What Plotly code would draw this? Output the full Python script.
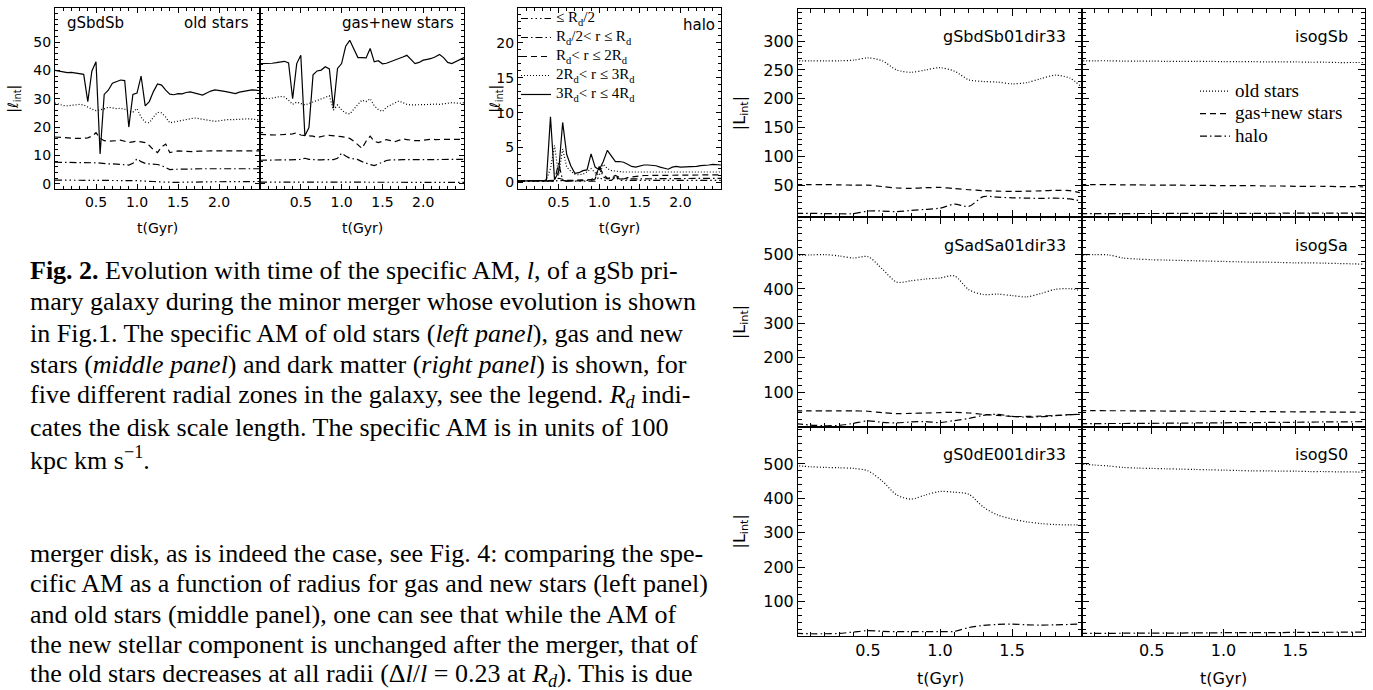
import plotly.graph_objects as go

W, H = 1373, 690

# ---------------- data: left figure (specific AM, gSbdSb) ----------------
T_LEFT = [0.00, 0.05, 0.10, 0.15, 0.20, 0.25, 0.30, 0.35, 0.40, 0.45,
          0.50, 0.55, 0.60, 0.65, 0.70, 0.75, 0.80, 0.85, 0.90, 0.95,
          1.00, 1.05, 1.10, 1.15, 1.20, 1.25, 1.30, 1.35, 1.40, 1.45,
          1.50, 1.55, 1.60, 1.65, 1.70, 1.75, 1.80, 1.85, 1.90, 1.95,
          2.00, 2.05, 2.10, 2.15, 2.20, 2.25, 2.30, 2.35, 2.40, 2.45, 2.50]

# old stars
OLD_R1 = [1.3, 1.3, 1.3, 1.3, 1.3, 1.3, 1.3, 1.3, 1.2, 1.2,
          1.2, 1.2, 1.2, 1.2, 1.2, 1.2, 1.1, 1.1, 1.1, 1.1,
          1.1, 1.0, 1.0, 0.9, 0.8, 0.7, 0.6, 0.6, 0.5, 0.5,
          0.5, 0.6, 0.6, 0.6, 0.6, 0.7, 0.7, 0.7, 0.7, 0.7,
          0.7, 0.7, 0.7, 0.8, 0.8, 0.8, 0.8, 0.8, 0.8, 0.8, 0.8]
OLD_R2 = [7.6, 7.6, 7.5, 7.5, 7.5, 7.5, 7.5, 7.4, 7.4, 7.4,
          7.4, 7.3, 7.1, 7.0, 7.0, 6.9, 6.8, 6.6, 6.6, 7.2,
          8.8, 7.8, 7.2, 7.0, 6.9, 6.8, 6.4, 5.8, 5.0, 5.1,
          5.2, 5.2, 5.2, 5.2, 5.3, 5.3, 5.3, 5.3, 5.3, 5.3,
          5.3, 5.3, 5.3, 5.3, 5.3, 5.3, 5.3, 5.3, 5.3, 5.3, 5.3]
OLD_R3 = [16.5, 16.4, 16.2, 16.0, 16.0, 16.0, 16.0, 16.0, 16.2, 16.8,
          18.0, 16.0, 15.2, 15.0, 15.0, 15.2, 15.4, 15.0, 14.6, 14.8,
          15.0, 14.8, 14.5, 13.5, 12.0, 11.0, 13.0, 14.0, 11.0, 11.3,
          11.6, 11.5, 11.4, 11.2, 11.3, 11.5, 11.6, 11.7, 11.6, 11.6,
          11.6, 11.6, 11.6, 11.6, 11.6, 11.6, 11.6, 11.6, 11.6, 11.6, 11.6]
OLD_R4 = [28.5, 28.0, 27.6, 27.5, 27.6, 27.8, 28.0, 27.8, 27.0, 26.3,
          25.8, 26.0, 26.4, 27.0, 26.8, 26.5, 26.6, 26.3, 25.5, 25.3,
          26.5, 23.5, 21.8, 21.5, 23.5, 25.2, 25.0, 23.5, 21.5, 21.8,
          22.0, 22.3, 22.6, 23.0, 23.2, 23.0, 22.8, 22.5, 22.2, 22.0,
          22.2, 22.5, 22.6, 22.6, 22.7, 22.9, 23.0, 22.9, 22.8, 22.6, 22.5]
OLD_R5 = [40.0, 39.8, 39.4, 39.2, 39.3, 39.0, 38.7, 38.6, 29.0, 39.8,
          43.0, 10.5, 31.5, 33.0, 35.5, 36.0, 36.6, 36.4, 20.0, 31.5,
          32.0, 38.0, 27.5, 29.0, 32.5, 35.2, 34.8, 33.0, 31.6, 31.4,
          31.8, 31.7, 32.2, 32.4, 32.1, 31.8, 31.3, 32.0, 32.7, 33.1,
          33.0, 32.7, 32.4, 32.1, 31.8, 32.3, 32.6, 33.0, 33.1, 33.0, 32.8]

# gas + new stars
GAS_R1 = [0.6, 0.6, 0.6, 0.6, 0.6, 0.6, 0.6, 0.6, 0.6, 0.6,
          0.6, 0.6, 0.6, 0.6, 0.6, 0.6, 0.6, 0.6, 0.6, 0.6,
          0.6, 0.6, 0.6, 0.5, 0.5, 0.5, 0.5, 0.5, 0.5, 0.5,
          0.5, 0.5, 0.5, 0.5, 0.5, 0.5, 0.5, 0.5, 0.5, 0.5,
          0.5, 0.5, 0.5, 0.5, 0.5, 0.5, 0.5, 0.5, 0.5, 0.5, 0.5]
GAS_R2 = [8.3, 8.3, 8.3, 8.4, 8.4, 8.4, 8.4, 8.5, 8.5, 8.5,
          8.6, 9.0, 8.6, 8.5, 8.4, 8.4, 8.5, 8.5, 8.5, 9.0,
          10.8, 9.8, 9.0, 8.8, 8.5, 7.8, 7.2, 6.8, 6.4, 7.0,
          7.8, 8.2, 8.4, 8.5, 8.5, 8.5, 8.5, 8.5, 8.5, 8.5,
          8.5, 8.5, 8.6, 8.6, 8.6, 8.6, 8.6, 8.6, 8.6, 8.6, 8.6]
GAS_R3 = [17.4, 17.3, 17.2, 17.2, 17.2, 17.3, 17.4, 17.5, 17.6, 18.0,
          17.2, 17.0, 17.0, 16.8, 16.3, 16.7, 17.0, 17.1, 17.0, 16.8,
          16.6, 16.4, 16.0, 15.0, 13.8, 12.5, 15.0, 16.8, 15.0, 14.5,
          15.0, 15.6, 15.2, 14.8, 15.3, 15.8, 15.6, 15.3, 15.2, 15.2,
          15.4, 15.6, 15.7, 15.6, 15.6, 15.7, 15.8, 15.7, 15.6, 15.6, 15.7]
GAS_R4 = [30.5, 30.3, 30.0, 30.2, 30.5, 30.8, 30.6, 29.5, 28.0, 28.8,
          28.3, 27.8, 28.3, 28.8, 29.3, 29.8, 30.3, 31.0, 26.0, 27.8,
          26.0, 25.0, 24.6, 26.5, 28.0, 29.5, 29.0, 30.0, 27.5, 26.2,
          25.5, 27.0, 27.8, 28.5, 29.2, 28.6, 28.0, 27.8, 27.8, 28.0,
          28.0, 27.9, 28.0, 28.1, 28.0, 28.2, 28.5, 28.6, 28.5, 28.4, 28.6]
GAS_R5 = [42.4, 42.4, 42.5, 42.5, 42.7, 43.0, 43.2, 42.6, 30.0, 42.4,
          45.3, 16.9, 19.8, 38.4, 39.8, 40.1, 41.3, 40.5, 26.7, 40.7,
          42.4, 48.5, 50.6, 47.5, 44.5, 44.5, 44.4, 47.7, 43.0, 43.4,
          42.3, 42.5, 43.0, 43.6, 44.2, 44.7, 45.3, 44.0, 42.4, 42.8,
          43.6, 43.9, 44.2, 44.8, 45.6, 44.5, 42.8, 42.4, 43.2, 43.9, 44.5]

# halo
HALO_R1 = [0.15, 0.15, 0.15, 0.15, 0.15, 0.15, 0.15, 0.15, 0.2, 0.2,
           0.3, 0.2, 0.2, 0.2, 0.2, 0.2, 0.2, 0.2, 0.2, 0.2,
           0.8, 0.3, 0.3, 0.3, 0.8, 0.3, 0.3, 0.3, 0.3, 0.3,
           0.3, 0.3, 0.3, 0.3, 0.3, 0.3, 0.3, 0.3, 0.3, 0.3,
           0.3, 0.3, 0.3, 0.3, 0.3, 0.3, 0.3, 0.3, 0.3, 0.3, 0.3]
HALO_R2 = [0.2, 0.2, 0.2, 0.2, 0.2, 0.2, 0.2, 0.2, 0.2, 0.2,
           2.8, 0.3, 0.2, 0.2, 0.2, 0.2, 0.3, 0.3, 0.3, 0.5,
           2.3, 0.8, 0.5, 0.6, 0.9, 0.5, 0.5, 0.5, 0.5, 0.5,
           0.6, 0.6, 0.6, 0.6, 0.6, 0.6, 0.6, 0.6, 0.6, 0.6,
           0.6, 0.6, 0.6, 0.6, 0.6, 0.6, 0.6, 0.6, 0.6, 0.6, 0.6]
HALO_R3 = [0.2, 0.2, 0.2, 0.2, 0.2, 0.2, 0.2, 0.2, 0.2, 0.3,
           0.6, 0.4, 0.3, 0.3, 0.3, 0.3, 0.3, 0.3, 0.4, 0.8,
           2.2, 1.2, 0.6, 0.7, 1.0, 0.7, 0.5, 0.7, 0.8, 0.9,
           0.9, 1.0, 1.0, 1.0, 1.0, 1.1, 1.1, 1.1, 1.1, 1.1,
           1.1, 1.1, 1.1, 1.1, 1.1, 1.1, 1.1, 1.1, 1.1, 1.1, 1.1]
HALO_R4 = [0.25, 0.25, 0.25, 0.25, 0.25, 0.25, 0.25, 0.4, 2.0, 5.3,
           1.0, 4.8, 2.2, 1.6, 1.2, 1.1, 1.2, 1.5, 2.0, 1.4,
           1.0, 2.6, 2.0, 1.7, 1.6, 1.5, 1.5, 1.5, 1.5, 1.5,
           1.5, 1.5, 1.5, 1.5, 1.5, 1.5, 1.5, 1.5, 1.5, 1.5,
           1.5, 1.5, 1.5, 1.5, 1.5, 1.5, 1.5, 1.5, 1.5, 1.5, 1.5]
HALO_R5 = [0.2, 0.2, 0.2, 0.2, 0.2, 0.2, 0.2, 0.3, 9.4, 0.4,
           1.5, 8.6, 4.0, 2.4, 1.3, 1.4, 1.7, 1.8, 4.1, 2.2,
           1.8, 3.0, 4.6, 3.8, 3.0, 3.0, 2.9, 2.6, 2.3, 2.2,
           2.4, 2.5, 2.5, 2.5, 2.4, 2.2, 2.0, 1.9, 2.2, 2.3,
           2.2, 2.2, 2.3, 2.3, 2.3, 2.4, 2.4, 2.5, 2.6, 2.6, 2.5]

ZONE_NAMES = ["≤ R<sub>d</sub>/2",
              "R<sub>d</sub>/2< r ≤ R<sub>d</sub>",
              "R<sub>d</sub>< r ≤ 2R<sub>d</sub>",
              "2R<sub>d</sub>< r ≤ 3R<sub>d</sub>",
              "3R<sub>d</sub>< r ≤ 4R<sub>d</sub>"]

# ---------------- data: right figure (total AM, 6 runs) ----------------
T_RIGHT = [0.0, 0.1, 0.2, 0.3, 0.4, 0.5, 0.6, 0.7, 0.8, 0.9, 1.0,
           1.1, 1.2, 1.3, 1.4, 1.5, 1.6, 1.7, 1.8, 1.9, 1.97]

SB_MERGER_OLD = [266, 266, 266, 266, 267, 271, 266, 250, 246, 250, 254,
                 248, 233, 230, 229, 226, 228, 235, 241, 236, 223]
SB_MERGER_GAS = [51, 51, 51, 50.5, 50, 50, 47.5, 45, 44.5, 45.5, 46,
                 44, 42, 40.5, 39.5, 39, 39.5, 40, 41, 40.5, 37]
SB_MERGER_HALO = [1, 1, 0.5, 0.3, 0.5, 5, 5, 4, 6, 8, 10,
                  17, 13, 30, 29, 28, 27.5, 27, 27.5, 26, 23]
SB_ISO_OLD = [266, 266, 266, 265.5, 265.5, 265.5, 265, 265, 265, 265, 264.5,
              264.5, 264.5, 264, 264, 264, 263.5, 263.5, 263, 263, 263]
SB_ISO_GAS = [51, 51, 51, 50.5, 50.5, 50, 50, 50, 49.5, 49.5, 49,
              49, 49, 48.5, 48.5, 48, 48, 48, 47.5, 47.5, 47]
SB_ISO_HALO = [0.5, 0.5, 0.6, 0.6, 0.7, 0.7, 0.8, 0.8, 0.9, 0.9, 1.0,
               1.0, 1.1, 1.1, 1.2, 1.2, 1.3, 1.3, 1.4, 1.4, 1.5]

SA_MERGER_OLD = [497, 499, 500, 496, 490, 494, 458, 420, 424, 429, 432,
                 438, 398, 384, 385, 381, 377, 387, 399, 401, 396]
SA_MERGER_GAS = [46, 46, 46, 46, 46, 45, 41, 38, 39, 40, 41,
                 42, 40, 36, 33, 30, 30, 31, 33, 35, 36]
SA_MERGER_HALO = [9, 5, 3, 4, 10, 17, 13, 11, 14, 15, 12,
                  18, 24, 33, 36, 30, 28, 29, 32, 35, 36]
SA_ISO_OLD = [498, 500, 499, 490, 487, 485, 484, 483, 482, 481, 480,
              479, 478, 478, 477, 476, 476, 475, 474, 473, 472]
SA_ISO_GAS = [47, 47, 46.5, 46.5, 46, 46, 45.5, 45.5, 45, 45, 44.5,
              44.5, 44, 44, 43.5, 43.5, 43, 43, 42.5, 42.5, 42]
SA_ISO_HALO = [9, 9, 9.5, 9.5, 10, 10, 10.5, 10.5, 11, 11, 11.5,
               12, 12, 12.5, 13, 13, 13.5, 14, 14, 14.5, 15]

S0_MERGER_OLD = [495, 492, 490, 489, 487, 480, 450, 410, 398, 410, 420,
                 418, 412, 375, 352, 340, 332, 327, 324, 323, 323]
S0_MERGER_HALO = [8, 7, 7, 8, 12, 16, 14, 13, 13, 13, 13,
                  14, 25, 31, 34, 35, 33, 32, 33, 34, 35]
S0_ISO_OLD = [500, 497, 494, 490, 488, 487, 486, 485, 484, 483, 482,
              481, 480, 480, 479, 479, 478, 478, 477, 477, 476]
S0_ISO_HALO = [8, 8, 8, 8.5, 8.5, 9, 9, 9, 9.5, 9.5, 10,
               10, 10, 10.5, 10.5, 11, 11, 11, 11.5, 11.5, 12]

RIGHT_LEGEND = ["old stars", "gas+new stars", "halo"]

CAPTION = [
    "<b>Fig. 2.</b> Evolution with time of the specific AM, <i>l</i>, of a gSb pri-",
    "mary galaxy during the minor merger whose evolution is shown",
    "in Fig.1. The specific AM of old stars (<i>left panel</i>), gas and new",
    "stars (<i>middle panel</i>) and dark matter (<i>right panel</i>) is shown, for",
    "five different radial zones in the galaxy, see the legend. <i>R<sub>d</sub></i> indi-",
    "cates the disk scale length. The specific AM is in units of 100",
    "kpc km s<sup>−1</sup>.",
]
BODY = [
    "merger disk, as is indeed the case, see Fig. 4: comparing the spe-",
    "cific AM as a function of radius for gas and new stars (left panel)",
    "and old stars (middle panel), one can see that while the AM of",
    "the new stellar component is unchanged after the merger, that of",
    "the old stars decreases at all radii (Δ<i>l</i>/<i>l</i> = 0.23 at <i>R<sub>d</sub></i>). This is due",
]

# ---------------- styling helpers ----------------
SANS = "DejaVu Sans"
SERIF = "Liberation Serif"
DASH_SOLID = "solid"
DASH_DOT = "1px,2px"
DASH_DASH = "6px,4px"
DASH_DASHDOT = "7px,3px,1.5px,3px"
DASH_DASH3DOT = "7px,3px,1.5px,3px,1.5px,3px,1.5px,3px"
ZONE_DASHES = [DASH_DASH3DOT, DASH_DASHDOT, DASH_DASH, DASH_DOT, DASH_SOLID]


def fx(px):
    return px / W


def fy(py):
    return 1 - py / H


def frange(a, b, step):
    out = []
    v = a
    while v <= b + 1e-9:
        out.append(round(v, 6))
        v += step
    return out


def big(s, size):
    return '<span style="font-size:%dpx">%s</span>' % (size, s)


def axis(dom, rng, tickvals, minor_vals, labels, font_size, ticktext=None, ticklen=5, minorlen=3):
    d = dict(domain=dom, range=rng, showgrid=False, zeroline=False,
             showline=True, linecolor="black", linewidth=1, mirror="allticks",
             ticks="inside", ticklen=ticklen, tickcolor="black", tickwidth=1,
             tickmode="array", tickvals=tickvals,
             showticklabels=labels,
             tickfont=dict(family=SANS, size=font_size, color="black"),
             minor=dict(tickmode="array", tickvals=minor_vals, ticks="inside",
                        ticklen=minorlen, tickcolor="black", tickwidth=1),
             fixedrange=True)
    if ticktext is not None:
        d["ticktext"] = ticktext
    return d


fig = go.Figure()
layout = dict(width=W, height=H, margin=dict(l=0, r=0, t=0, b=0),
              paper_bgcolor="white", plot_bgcolor="white", autosize=False)

# left figure geometry
LX = [(55, 260), (260, 464), (518, 721)]
LY = (8, 190)
x_ticks_l = [0.5, 1.0, 1.5, 2.0]
x_text_l = ["0.5", "1.0", "1.5", "2.0"]
x_minor_l = frange(0.0, 2.5, 0.1)

for i, (x0, x1) in enumerate(LX):
    n = "" if i == 0 else str(i + 1)
    layout["xaxis" + n] = axis([fx(x0), fx(x1)], [0, 2.5], x_ticks_l, x_minor_l, True, 14,
                               ticktext=x_text_l)
    layout["xaxis" + n]["anchor"] = "y" + n
    if i < 2:
        yax = axis([fy(LY[1]), fy(LY[0])], [-2, 62], [0, 10, 20, 30, 40, 50],
                   frange(0, 62, 2), i == 0, 14)
    else:
        yax = axis([fy(LY[1]), fy(LY[0])], [-1, 25], [0, 5, 10, 15, 20],
                   frange(0, 25, 1), True, 14)
    yax["anchor"] = "x" + n
    layout["yaxis" + n] = yax

old_series = [OLD_R1, OLD_R2, OLD_R3, OLD_R4, OLD_R5]
gas_series = [GAS_R1, GAS_R2, GAS_R3, GAS_R4, GAS_R5]
halo_series = [HALO_R1, HALO_R2, HALO_R3, HALO_R4, HALO_R5]

for k in range(5):
    fig.add_trace(go.Scatter(x=T_LEFT, y=old_series[k], mode="lines", xaxis="x", yaxis="y",
                             line=dict(color="black", width=1.2, dash=ZONE_DASHES[k]),
                             showlegend=False, hoverinfo="skip"))
    fig.add_trace(go.Scatter(x=T_LEFT, y=gas_series[k], mode="lines", xaxis="x2", yaxis="y2",
                             line=dict(color="black", width=1.2, dash=ZONE_DASHES[k]),
                             showlegend=False, hoverinfo="skip"))
for k in range(5):
    fig.add_trace(go.Scatter(x=T_LEFT, y=halo_series[k], mode="lines", xaxis="x3", yaxis="y3",
                             name=big(ZONE_NAMES[k], 15), legend="legend",
                             line=dict(color="black", width=1.2, dash=ZONE_DASHES[k]),
                             showlegend=True, hoverinfo="skip"))

# right figure geometry
RX = [(798, 1082), (1082, 1365)]
RY = [(9, 218), (218, 428), (428, 638)]
x_ticks_r = [0.5, 1.0, 1.5]
x_minor_r = frange(0.1, 1.9, 0.1)
r_ranges = [[-6, 356], [0, 608], [0, 608]]
r_ticks = [[50, 100, 150, 200, 250, 300], [100, 200, 300, 400, 500], [100, 200, 300, 400, 500]]
r_minor = [frange(0, 355, 10), frange(0, 600, 20), frange(0, 600, 20)]

ax_id = 4
panel_axes = {}
for r in range(3):
    for c in range(2):
        n = str(ax_id)
        xa = axis([fx(RX[c][0]), fx(RX[c][1])], [0.015, 1.985], x_ticks_r, x_minor_r,
                  r == 2, 16, ticktext=["0.5", "1.0", "1.5"], ticklen=7, minorlen=4)
        xa["anchor"] = "y" + n
        ya = axis([fy(RY[r][1]), fy(RY[r][0])], r_ranges[r], r_ticks[r], r_minor[r],
                  c == 0, 16, ticklen=7, minorlen=4)
        ya["anchor"] = "x" + n
        layout["xaxis" + n] = xa
        layout["yaxis" + n] = ya
        panel_axes[(r, c)] = ("x" + n, "y" + n)
        ax_id += 1

right_data = {
    (0, 0): [SB_MERGER_OLD, SB_MERGER_GAS, SB_MERGER_HALO],
    (0, 1): [SB_ISO_OLD, SB_ISO_GAS, SB_ISO_HALO],
    (1, 0): [SA_MERGER_OLD, SA_MERGER_GAS, SA_MERGER_HALO],
    (1, 1): [SA_ISO_OLD, SA_ISO_GAS, SA_ISO_HALO],
    (2, 0): [S0_MERGER_OLD, None, S0_MERGER_HALO],
    (2, 1): [S0_ISO_OLD, None, S0_ISO_HALO],
}
right_dashes = [DASH_DOT, DASH_DASH, DASH_DASHDOT]
for key, series in right_data.items():
    xa, ya = panel_axes[key]
    for j, vals in enumerate(series):
        if vals is None:
            continue
        show = key == (0, 1)
        fig.add_trace(go.Scatter(x=T_RIGHT, y=vals, mode="lines", xaxis=xa, yaxis=ya,
                                 name=big(RIGHT_LEGEND[j], 19), legend="legend2", showlegend=show,
                                 line=dict(color="black", width=1.2, dash=right_dashes[j],
                                           shape="spline", smoothing=0.8),
                                 hoverinfo="skip"))

layout["legend"] = dict(x=fx(516), y=fy(4), xanchor="left", yanchor="top",
                        bgcolor="rgba(0,0,0,0)", borderwidth=0,
                        font=dict(family=SERIF, size=10, color="black"),
                        traceorder="normal", itemclick=False, itemdoubleclick=False)
layout["legend2"] = dict(x=fx(1195), y=fy(75), xanchor="left", yanchor="top",
                         bgcolor="rgba(0,0,0,0)", borderwidth=0,
                         font=dict(family=SERIF, size=15, color="black"),
                         traceorder="normal", itemclick=False, itemdoubleclick=False)

ann = []


def text(x, y, s, size, family=SANS, xanchor="center", angle=0):
    ann.append(dict(x=fx(x), y=fy(y), xref="paper", yref="paper", text=s, showarrow=False,
                    xanchor=xanchor, yanchor="middle", textangle=angle,
                    font=dict(family=family, size=size, color="black")))


# left figure labels
text(65, 23, "gSbdSb", 15, xanchor="left")
text(251, 23, "old stars", 15, xanchor="right")
text(456, 23, "gas+new stars", 15, xanchor="right")
text(717, 25, "halo", 15, xanchor="right")
for (x0, x1) in LX:
    text((x0 + x1) / 2, 229, "t(Gyr)", 14)
text(14, 99, "|ℓ<sub>int</sub>|", 14, angle=-90)
text(496, 99, "|ℓ<sub>int</sub>|", 14, angle=-90)

# right figure labels
run_names = [("gSbdSb01dir33", "isogSb"), ("gSadSa01dir33", "isogSa"), ("gS0dE001dir33", "isogS0")]
for r in range(3):
    top = RY[r][0]
    text(RX[0][1] - 14, top + 28, run_names[r][0], 16, xanchor="right")
    text(RX[1][1] - 15, top + 28, run_names[r][1], 16, xanchor="right")
    text(740, (RY[r][0] + RY[r][1]) / 2, "|L<sub>int</sub>|", 16, angle=-90)
for (x0, x1) in RX:
    text((x0 + x1) / 2, 680, "t(Gyr)", 16)

# caption and body text
for i, line in enumerate(CAPTION):
    text(28, 271 + 31.5 * i, line, 26, family=SERIF, xanchor="left")
for i, line in enumerate(BODY):
    text(28, 555 + 30.5 * i, line, 26, family=SERIF, xanchor="left")

layout["annotations"] = ann
fig.update_layout(**layout)
fig.write_html("out.html")
